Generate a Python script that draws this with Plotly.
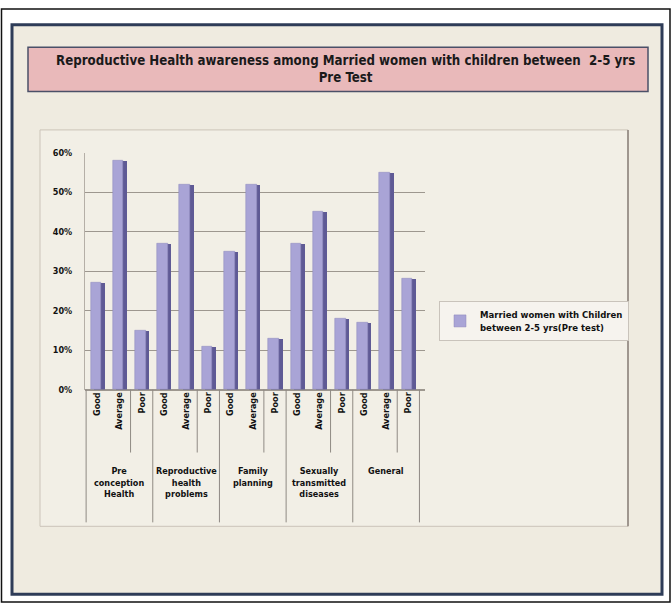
import plotly.graph_objects as go

# ---- data ----
groups = ["Pre<br>conception<br>Health", "Reproductive<br>health<br>problems",
          "Family<br>planning", "Sexually<br>transmitted<br>diseases", "General"]
levels = ["Good", "Average", "Poor"]
pre_conception = [0.27, 0.58, 0.15]
reproductive = [0.37, 0.52, 0.11]
family_planning = [0.35, 0.52, 0.13]
std_diseases = [0.37, 0.45, 0.18]
general = [0.17, 0.55, 0.28]
series_name = "Married women with Children<br>between 2-5 yrs(Pre test)"
title_text = "Reproductive Health awareness among Married women with children between  2-5 yrs<br>Pre Test"

values = pre_conception + reproductive + family_planning + std_diseases + general
sub_labels = levels * len(groups)
xpos = list(range(len(values)))

W, H = 672, 609
def px(x):
    return x / W
def py(y):
    return 1 - y / H

FONT = "DejaVu Sans Condensed, Liberation Sans, sans-serif"
bar_main = "#a9a4d6"
bar_side = "#5f5a95"

fig = go.Figure()
# side/shadow face for a 3-D look
fig.add_trace(go.Bar(x=xpos, y=values, width=0.5, offset=-0.16,
                     marker=dict(color=bar_side, line=dict(width=0)),
                     showlegend=False, hoverinfo="skip"))
fig.add_trace(go.Bar(x=xpos, y=values, width=0.48, offset=-0.3, name=series_name,
                     marker=dict(color=bar_main, line=dict(color="#8c87bb", width=0.5))))

shapes = []
# outer black border
shapes.append(dict(type="rect", xref="paper", yref="paper", x0=px(1.5), x1=px(670), y0=py(607), y1=py(4),
                   line=dict(color="#111111", width=1.5), fillcolor="white", layer="below"))
# navy frame panel
shapes.append(dict(type="rect", xref="paper", yref="paper", x0=px(12), x1=px(662), y0=py(599), y1=py(20),
                   line=dict(color="#2e3c58", width=3), fillcolor="#efebe0", layer="below"))
# title box
shapes.append(dict(type="rect", xref="paper", yref="paper", x0=px(28), x1=px(648), y0=py(88), y1=py(43),
                   line=dict(color="#4b5068", width=1.5), fillcolor="#e9b9ba", layer="below"))
# chart area box
shapes.append(dict(type="rect", xref="paper", yref="paper", x0=px(40), x1=px(628), y0=py(530), y1=py(127),
                   line=dict(color="#cbc4b9", width=1), fillcolor="#f2efe6", layer="below"))
shapes.append(dict(type="line", xref="paper", yref="paper", x0=px(628), x1=px(628), y0=py(530), y1=py(127),
                   line=dict(color="#8a817a", width=1.5), layer="below"))

# category separators
axis_y = py(391)
n_groups = len(groups)
for g in range(n_groups + 1):
    xb = g * 3 - 0.5
    shapes.append(dict(type="line", xref="x", yref="paper", x0=xb, x1=xb, y0=axis_y, y1=py(526),
                       line=dict(color="#8f8a84", width=1)))
for g in range(n_groups):
    xb = g * 3 + 1.5
    shapes.append(dict(type="line", xref="x", yref="paper", x0=xb, x1=xb, y0=axis_y, y1=py(455),
                       line=dict(color="#8f8a84", width=1)))

annotations = [dict(text=title_text, xref="paper", yref="paper", x=px(346), y=py(65),
                    xanchor="center", yanchor="middle", showarrow=False,
                    font=dict(family=FONT, size=13.2, color="#1a1a1a", weight="bold"))]
for g, name in enumerate(groups):
    annotations.append(dict(text=name, xref="x", yref="paper", x=g * 3 + 1, y=py(467),
                            xanchor="center", yanchor="top", showarrow=False, align="center",
                            font=dict(family=FONT, size=9, color="#111111", weight="bold")))

fig.update_layout(
    width=W, height=H,
    margin=dict(l=0, r=0, t=0, b=0),
    paper_bgcolor="white", plot_bgcolor="rgba(0,0,0,0)",
    barmode="overlay", bargap=0,
    shapes=shapes, annotations=annotations,
    showlegend=True,
    legend=dict(x=px(439), y=py(301), xanchor="left", yanchor="top",
                bgcolor="#f6f3ee", bordercolor="#c9c3bb", borderwidth=1,
                font=dict(family=FONT, size=9.5, color="#111111", weight="bold"),
                itemwidth=30),
    xaxis=dict(domain=[px(85), px(425)], range=[-0.55, 14.75],
               tickmode="array", tickvals=xpos, ticktext=sub_labels, tickangle=-90,
               tickfont=dict(family=FONT, size=9, color="#111111", weight="bold"),
               showgrid=False, zeroline=False, showline=False, ticks="", anchor="y"),
    yaxis=dict(domain=[py(391), py(150)], range=[0, 0.6], dtick=0.1, tickformat=".0%",
               tickfont=dict(family=FONT, size=9, color="#111111", weight="bold"),
               showgrid=True, gridcolor="#9d978f", gridwidth=1,
               zeroline=True, zerolinecolor="#9d978f",
               showline=True, linecolor="#b5afa7", ticks="", ticklabelstandoff=10),
)

fig.write_html("out.html")
